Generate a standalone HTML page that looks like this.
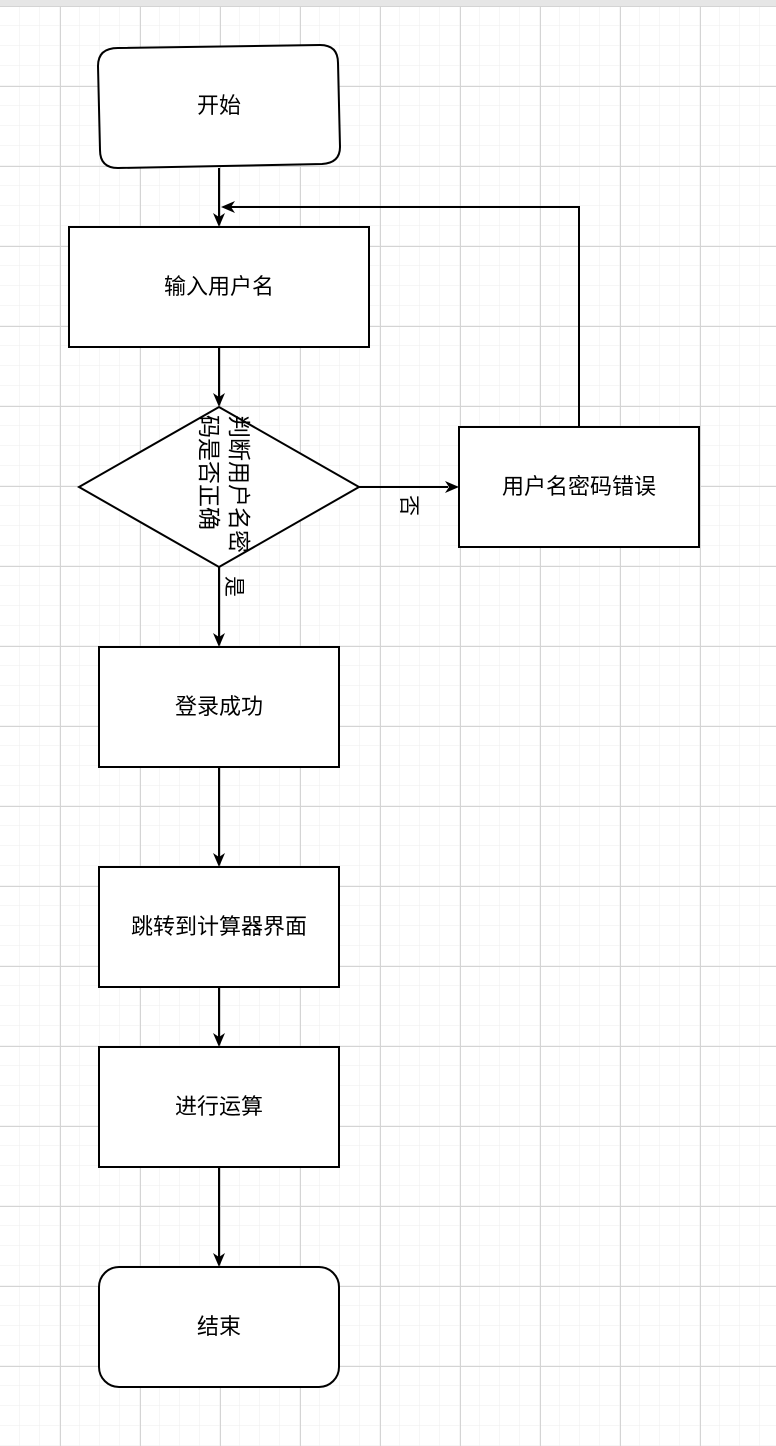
<!DOCTYPE html>
<html><head><meta charset="utf-8"><style>
body{margin:0;width:776px;height:1446px;overflow:hidden;background:#fff;font-family:"Liberation Sans","Noto Sans CJK SC",sans-serif;}
svg{position:absolute;left:0;top:0}
.t{position:absolute;font-size:22px;color:#000;text-align:center;line-height:24px}
.r{position:absolute;font-size:21px;color:#000;transform:rotate(90deg);transform-origin:50% 50%;white-space:nowrap}
</style></head><body>
<svg width="776" height="1446">
<defs>
<pattern id="mi" width="20" height="20" patternUnits="userSpaceOnUse" x="0" y="6"><path d="M20 0V20M0 20H20" stroke="#eee" stroke-width="1" fill="none"/></pattern>
<pattern id="ma" width="80" height="80" patternUnits="userSpaceOnUse" x="60" y="6"><path d="M0.5 0V80M0 0.5H80" stroke="#d4d4d4" stroke-width="1" fill="none"/></pattern>
</defs>
<rect x="0" y="0" width="776" height="1446" fill="url(#mi)"/>
<rect x="0" y="0" width="776" height="1446" fill="url(#ma)"/>
<rect x="0" y="0" width="776" height="6" fill="#e6e6e6"/>
<g stroke="#000" stroke-width="2" fill="#fff">
<path d="M118 48 L320 45 Q338 45 338 63 L340 147 Q340 163 322 164 L118 168 Q100 168 100 150 L98 66 Q98 48 118 48Z"/>
<rect x="69" y="227" width="300" height="120"/>
<polygon points="79,487 219,407 359,487 219,567"/>
<rect x="459" y="427" width="240" height="120"/>
<rect x="99" y="647" width="240" height="120"/>
<rect x="99" y="867" width="240" height="120"/>
<rect x="99" y="1047" width="240" height="120"/>
<rect x="99" y="1267" width="240" height="120" rx="20"/>
<g fill="none">
<path d="M219 168V218"/><path d="M579 427V207H230"/>
<path d="M219 347V398"/><path d="M359 487H448"/>
<path d="M219 567V638"/><path d="M219 767V858"/>
<path d="M219 987V1038"/><path d="M219 1167V1258"/>
</g>
</g>
<g fill="#000">
<path d="M219 227l-6-14 6 4 6-4z"/>
<path d="M219 407l-6-14 6 4 6-4z"/>
<path d="M219 647l-6-14 6 4 6-4z"/>
<path d="M219 867l-6-14 6 4 6-4z"/>
<path d="M219 1047l-6-14 6 4 6-4z"/>
<path d="M219 1267l-6-14 6 4 6-4z"/>
<path d="M459 487l-14-6 4 6-4 6z"/>
<path d="M221 207l14-6-4 6 4 6z"/>
</g>
</svg>
<div class="t" style="left:99px;top:94px;width:240px">开始</div>
<div class="t" style="left:69px;top:275px;width:300px">输入用户名</div>
<div class="r" style="left:151px;top:458px;width:146px;height:60px;line-height:30px;text-align:left;font-size:23px">判断用户名密<br>码是否正确</div>
<div class="r" style="left:396px;top:494px;width:24px;height:26px;line-height:26px">否</div>
<div class="r" style="left:221px;top:575px;width:24px;height:26px;line-height:26px">是</div>
<div class="t" style="left:459px;top:475px;width:240px">用户名密码错误</div>
<div class="t" style="left:99px;top:695px;width:240px">登录成功</div>
<div class="t" style="left:99px;top:915px;width:240px">跳转到计算器界面</div>
<div class="t" style="left:99px;top:1095px;width:240px">进行运算</div>
<div class="t" style="left:99px;top:1315px;width:240px">结束</div>
</body></html>
